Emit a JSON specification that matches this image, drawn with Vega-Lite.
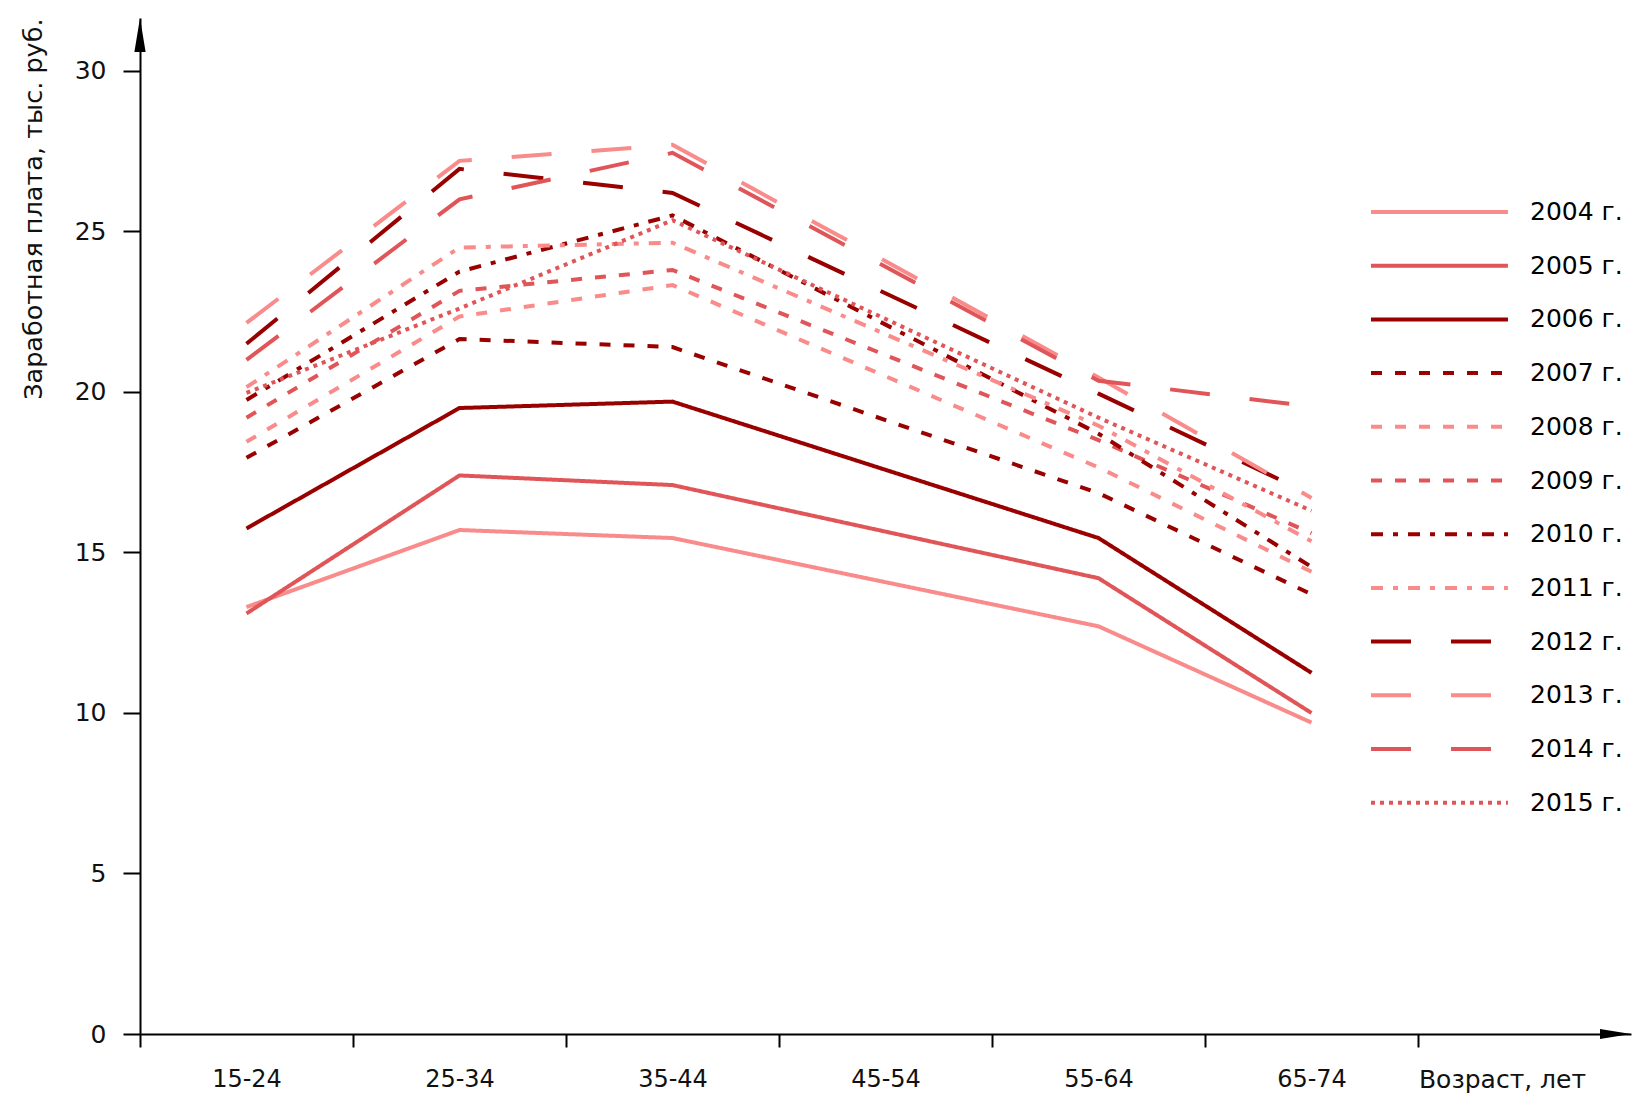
{
  "$schema": "https://vega.github.io/schema/vega-lite/v6.json",
  "width": 1491,
  "height": 1016,
  "autosize": {"type": "none"},
  "padding": {"left": 140, "top": 18, "right": 13, "bottom": 83},
  "background": "white",
  "datasets": {
    "wages": [
      {"year": "2004 г.", "age": "15-24", "wage": 13.3},
      {"year": "2004 г.", "age": "25-34", "wage": 15.7},
      {"year": "2004 г.", "age": "35-44", "wage": 15.45},
      {"year": "2004 г.", "age": "55-64", "wage": 12.7},
      {"year": "2004 г.", "age": "65-74", "wage": 9.7},
      {"year": "2005 г.", "age": "15-24", "wage": 13.1},
      {"year": "2005 г.", "age": "25-34", "wage": 17.4},
      {"year": "2005 г.", "age": "35-44", "wage": 17.1},
      {"year": "2005 г.", "age": "55-64", "wage": 14.2},
      {"year": "2005 г.", "age": "65-74", "wage": 10.0},
      {"year": "2006 г.", "age": "15-24", "wage": 15.75},
      {"year": "2006 г.", "age": "25-34", "wage": 19.5},
      {"year": "2006 г.", "age": "35-44", "wage": 19.7},
      {"year": "2006 г.", "age": "55-64", "wage": 15.45},
      {"year": "2006 г.", "age": "65-74", "wage": 11.25},
      {"year": "2007 г.", "age": "15-24", "wage": 17.95},
      {"year": "2007 г.", "age": "25-34", "wage": 21.65},
      {"year": "2007 г.", "age": "35-44", "wage": 21.4},
      {"year": "2007 г.", "age": "55-64", "wage": 16.85},
      {"year": "2007 г.", "age": "65-74", "wage": 13.7},
      {"year": "2008 г.", "age": "15-24", "wage": 18.45},
      {"year": "2008 г.", "age": "25-34", "wage": 22.35},
      {"year": "2008 г.", "age": "35-44", "wage": 23.33},
      {"year": "2008 г.", "age": "55-64", "wage": 17.65},
      {"year": "2008 г.", "age": "65-74", "wage": 14.4},
      {"year": "2009 г.", "age": "15-24", "wage": 19.2},
      {"year": "2009 г.", "age": "25-34", "wage": 23.15},
      {"year": "2009 г.", "age": "35-44", "wage": 23.8},
      {"year": "2009 г.", "age": "55-64", "wage": 18.5},
      {"year": "2009 г.", "age": "65-74", "wage": 15.6},
      {"year": "2010 г.", "age": "15-24", "wage": 19.75},
      {"year": "2010 г.", "age": "25-34", "wage": 23.75},
      {"year": "2010 г.", "age": "35-44", "wage": 25.5},
      {"year": "2010 г.", "age": "55-64", "wage": 18.7},
      {"year": "2010 г.", "age": "65-74", "wage": 14.55},
      {"year": "2011 г.", "age": "15-24", "wage": 20.15},
      {"year": "2011 г.", "age": "25-34", "wage": 24.5},
      {"year": "2011 г.", "age": "35-44", "wage": 24.65},
      {"year": "2011 г.", "age": "55-64", "wage": 18.95},
      {"year": "2011 г.", "age": "65-74", "wage": 15.35},
      {"year": "2012 г.", "age": "15-24", "wage": 21.5},
      {"year": "2012 г.", "age": "25-34", "wage": 26.95},
      {"year": "2012 г.", "age": "35-44", "wage": 26.2},
      {"year": "2012 г.", "age": "55-64", "wage": 19.95},
      {"year": "2012 г.", "age": "65-74", "wage": 16.8},
      {"year": "2013 г.", "age": "15-24", "wage": 22.15},
      {"year": "2013 г.", "age": "25-34", "wage": 27.2},
      {"year": "2013 г.", "age": "35-44", "wage": 27.7},
      {"year": "2013 г.", "age": "55-64", "wage": 20.45},
      {"year": "2013 г.", "age": "65-74", "wage": 16.7},
      {"year": "2014 г.", "age": "15-24", "wage": 21.0},
      {"year": "2014 г.", "age": "25-34", "wage": 26.0},
      {"year": "2014 г.", "age": "35-44", "wage": 27.45},
      {"year": "2014 г.", "age": "55-64", "wage": 20.35},
      {"year": "2014 г.", "age": "65-74", "wage": 19.55},
      {"year": "2015 г.", "age": "15-24", "wage": 19.97},
      {"year": "2015 г.", "age": "25-34", "wage": 22.6},
      {"year": "2015 г.", "age": "35-44", "wage": 25.35},
      {"year": "2015 г.", "age": "55-64", "wage": 19.2},
      {"year": "2015 г.", "age": "65-74", "wage": 16.3}
    ],
    "yarrow": [{"age": "15-24", "wage": 31.65}],
    "xarrow": [{"age": " ", "wage": 0}]
  },
  "encoding": {
    "x": {
      "field": "age",
      "type": "nominal",
      "scale": {
        "type": "band",
        "domain": ["15-24", "25-34", "35-44", "45-54", "55-64", "65-74", " "],
        "paddingInner": 0,
        "paddingOuter": 0
      },
      "axis": {
        "title": "Возраст, лет",
        "titleX": 1362,
        "titleY": 45,
        "titleAlign": "center",
        "titleBaseline": "middle",
        "titleFontSize": 25,
        "titleFontWeight": "normal",
        "labelAngle": 0,
        "labelFontSize": 24,
        "labelBaseline": "middle",
        "labelPadding": 32,
        "tickSize": 13,
        "tickBand": "extent",
        "tickOpacity": {"condition": {"test": "datum.index >= 0.99", "value": 0}, "value": 1},
        "grid": false
      }
    },
    "y": {
      "field": "wage",
      "type": "quantitative",
      "scale": {"domain": [0, 31.65], "nice": false, "zero": true},
      "axis": {
        "title": "Заработная плата, тыс. руб.",
        "titleX": -107,
        "titleY": 0,
        "titleAngle": -90,
        "titleAlign": "right",
        "titleBaseline": "middle",
        "titleFontSize": 25.5,
        "titleFontWeight": "normal",
        "values": [0, 5, 10, 15, 20, 25, 30],
        "labelFontSize": 25,
        "labelPadding": 17,
        "tickSize": 17,
        "grid": false
      }
    }
  },
  "layer": [
    {
      "data": {"name": "wages"},
      "mark": {"type": "line", "strokeWidth": 4, "strokeCap": "butt"},
      "encoding": {
        "color": {
          "field": "year",
          "type": "nominal",
          "scale": {
            "range": ["#F98B8B", "#E05558", "#990000", "#990000", "#F98B8B", "#E05558",
                      "#990000", "#F98B8B", "#990000", "#F98B8B", "#E05558", "#E05558"]
          },
          "legend": {
            "title": null,
            "orient": "none",
            "legendX": 1229,
            "legendY": 177,
            "symbolType": "M-1,0H8.13",
            "symbolSize": 900,
            "symbolStrokeWidth": 4,
            "labelOffset": 127,
            "labelFontSize": 25,
            "labelColor": "black",
            "rowPadding": 23.7
          }
        },
        "strokeDash": {
          "field": "year",
          "type": "nominal",
          "scale": {
            "range": [[1, 0], [1, 0], [1, 0], [11, 13], [11, 13], [11, 13],
                      [12, 10, 5, 10], [12, 10, 5, 10], [40, 40], [40, 40], [40, 40], [4, 5]]
          },
          "legend": null
        }
      }
    },
    {
      "data": {"name": "yarrow"},
      "mark": {"type": "point", "shape": "M-0.33,2L0,0L0.33,2Z", "filled": true, "color": "black", "opacity": 1, "size": 1156},
      "encoding": {
        "x": {"field": "age", "type": "nominal", "bandPosition": 0}
      }
    },
    {
      "data": {"name": "xarrow"},
      "mark": {"type": "point", "shape": "M-2,-0.33L0,0L-2,0.33Z", "filled": true, "color": "black", "opacity": 1, "size": 961},
      "encoding": {
        "x": {"field": "age", "type": "nominal", "bandPosition": 1}
      }
    }
  ],
  "config": {
    "font": "DejaVu Sans",
    "view": {"stroke": null},
    "axis": {
      "domainColor": "black",
      "domainWidth": 2,
      "tickColor": "black",
      "tickWidth": 2,
      "labelColor": "#111",
      "titleColor": "#111",
      "labelFont": "DejaVu Sans",
      "titleFont": "DejaVu Sans"
    },
    "legend": {"labelFont": "DejaVu Sans"}
  }
}
